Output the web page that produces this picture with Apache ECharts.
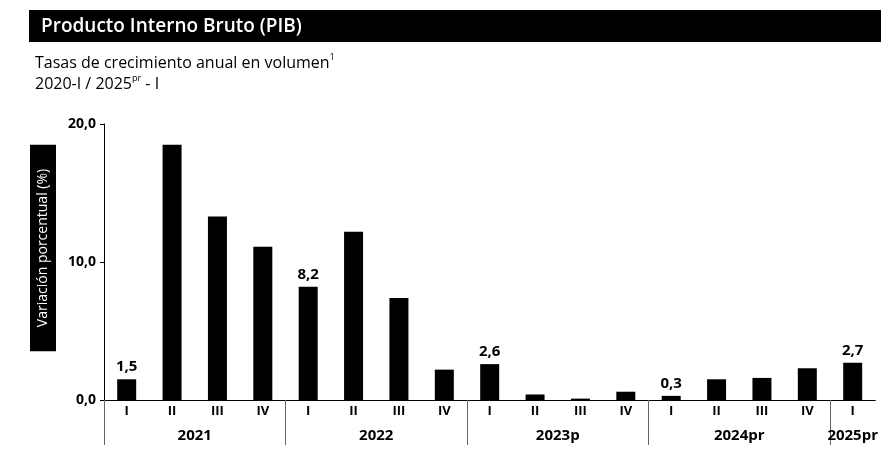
<!DOCTYPE html>
<html>
<head>
<meta charset="utf-8">
<script src="https://cdn.jsdelivr.net/npm/echarts@6/dist/echarts.min.js"></script>
<style>
  html, body { margin: 0; padding: 0; background: #fff; }
  #pib { width: 881px; height: 452px; }
</style>
</head>
<body>
<div id="pib"></div>
<script>
// datos
var years = ['2021', '2022', '2023p', '2024pr', '2025pr'];
var quartersPerYear = [4, 4, 4, 4, 1];
var quarterNames = ['I', 'II', 'III', 'IV'];
var values = [1.5, 18.5, 13.3, 11.1, 8.2, 12.2, 7.4, 2.2, 2.6, 0.4, 0.1, 0.6, 0.3, 1.5, 1.6, 2.3, 2.7];
var yTicks = [0, 10, 20];

var quarterLabels = [];
quartersPerYear.forEach(function (n) {
  for (var i = 0; i < n; i++) quarterLabels.push(quarterNames[i]);
});

// segundo eje: 2*N+1 puntos para poner el año al centro del grupo y los separadores
var nq = quarterLabels.length;
var yearSlots = [];
for (var k = 0; k <= nq * 2; k++) yearSlots.push('');
var dividers = {0: true};
var pos = 0;
quartersPerYear.forEach(function (n, i) {
  yearSlots[pos * 2 + n] = years[i];
  pos += n;
  if (pos < nq) dividers[pos * 2] = true;
});

var chart = echarts.init(document.getElementById('pib'));
var option = {
  animation: false,
  textStyle: { fontFamily: 'Open Sans' },
  graphic: [
    { type: 'rect', shape: { x: 29, y: 10, width: 852, height: 32 }, style: { fill: '#000' } },
    {
      type: 'text', x: 43, y: 248, rotation: Math.PI / 2,
      style: {
        text: 'Variación porcentual (%)', fill: '#fff', backgroundColor: '#000',
        font: '14px "Open Sans"', padding: [6, 24, 6, 24],
        align: 'center', verticalAlign: 'middle'
      }
    }
  ],
  title: [
    {
      text: 'Producto Interno Bruto (PIB)', left: 36, top: 12,
      textStyle: { color: '#fff', fontSize: 19, fontWeight: 600, fontFamily: 'Open Sans' }
    },
    {
      text: 'Tasas de crecimiento anual en volumen{sup|1}\n2020-I / 2025{sup|pr} - I',
      left: 30, top: 48,
      textStyle: {
        color: '#000', fontSize: 16, fontWeight: 'normal', lineHeight: 21, fontFamily: 'Open Sans',
        rich: { sup: { fontSize: 9, verticalAlign: 'top', lineHeight: 21, fontFamily: 'Open Sans' } }
      }
    }
  ],
  grid: { left: 104, right: 5, top: 124, bottom: 52 },
  xAxis: [
    {
      type: 'category', data: quarterLabels,
      axisLine: { lineStyle: { color: '#000', width: 1 } },
      axisTick: { show: false },
      axisLabel: { color: '#000', fontWeight: 'bold', fontSize: 13, margin: 5, interval: 0 }
    },
    {
      type: 'category', data: yearSlots, position: 'bottom', boundaryGap: false,
      axisLine: { show: false },
      axisTick: {
        show: true, length: 45, inside: false,
        interval: function (i) { return !!dividers[i]; },
        lineStyle: { color: '#666', width: 1 }
      },
      axisLabel: { color: '#000', fontWeight: 'bold', fontSize: 15, margin: 28, interval: 0 }
    }
  ],
  yAxis: {
    type: 'value', min: yTicks[0], max: yTicks[yTicks.length - 1], interval: 10,
    axisLine: { show: true, lineStyle: { color: '#000', width: 1 } },
    axisTick: { show: true, length: 4, lineStyle: { color: '#000' } },
    splitLine: { show: false },
    axisLabel: {
      color: '#000', fontWeight: 'bold', fontSize: 14, margin: 8,
      formatter: function (v) { return v.toFixed(1).replace('.', ','); }
    }
  },
  series: [
    {
      type: 'bar', xAxisIndex: 0, data: values, barWidth: 19,
      itemStyle: { color: '#000' },
      label: {
        show: true, position: 'top', distance: 5, color: '#000',
        fontWeight: 'bold', fontSize: 15,
        formatter: function (p) {
          return quarterLabels[p.dataIndex] === 'I' ? p.value.toFixed(1).replace('.', ',') : '';
        }
      }
    }
  ]
};
chart.setOption(option);
</script>
</body>
</html>
